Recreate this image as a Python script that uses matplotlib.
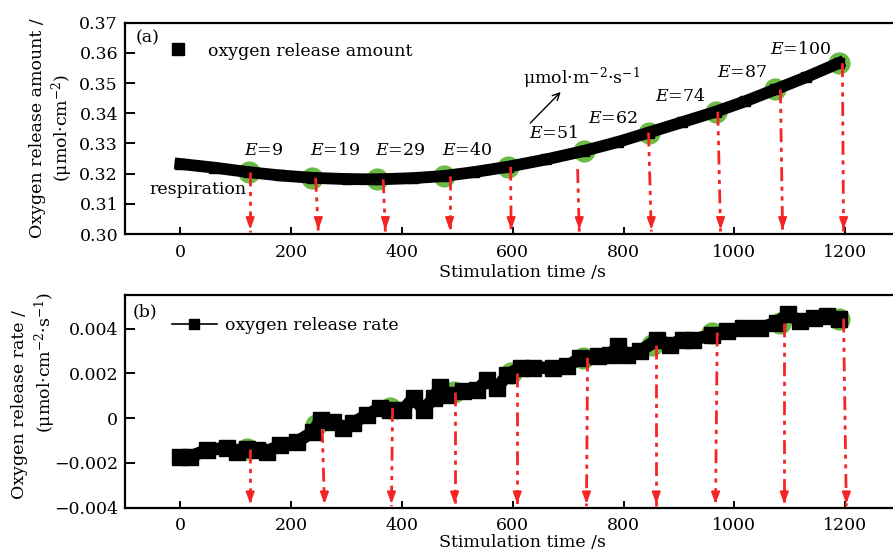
import matplotlib.pyplot as plt
from matplotlib.lines import Line2D
from matplotlib.ticker import FuncFormatter

# (a) oxygen release amount
amount_t = [0, 60, 123, 180, 238, 300, 355, 420, 475, 530, 592, 660, 728, 790, 845, 905, 966, 1020, 1074, 1130, 1188]
amount_v = [0.3232, 0.3220, 0.3205, 0.3194, 0.3186, 0.3182, 0.3181, 0.3185, 0.3192, 0.3205, 0.3223,
            0.3247, 0.3275, 0.3305, 0.3336, 0.3370, 0.3405, 0.3440, 0.3479, 0.3520, 0.3566]

# (b) oxygen release rate
rate_t = [0, 18, 48, 85, 103, 121, 139, 157, 180, 211, 240, 253, 276, 294, 312, 337, 361, 379, 402,
          421, 439, 457, 469, 481, 511, 536, 554, 572, 590, 614, 637, 673, 698, 722, 753, 776, 789,
          807, 830, 861, 884, 908, 926, 960, 987, 1016, 1047, 1077, 1096, 1119, 1143, 1168, 1188]
rate_v = [-0.00175, -0.00172, -0.00142, -0.00133, -0.00149, -0.00137, -0.00142, -0.00149, -0.00120,
          -0.00105, -0.00060, -0.00007, -0.00015, -0.00045, -0.00021, 0.00015, 0.00046, 0.00037,
          0.00037, 0.00091, 0.00037, 0.00090, 0.00140, 0.00105, 0.00120, 0.00127, 0.00172, 0.00136,
          0.00194, 0.00225, 0.00225, 0.00225, 0.00231, 0.00270, 0.00276, 0.00284, 0.00320, 0.00284,
          0.00300, 0.00351, 0.00328, 0.00351, 0.00350, 0.00373, 0.00388, 0.00403, 0.00403, 0.00427,
          0.00463, 0.00433, 0.00449, 0.00455, 0.00445]

# green markers (stimulation points)
mark_a_t = [123, 238, 355, 475, 592, 728, 845, 966, 1074, 1188]
mark_a_v = [0.3206, 0.3186, 0.3181, 0.3193, 0.3223, 0.3275, 0.3336, 0.3405, 0.3479, 0.3566]
mark_b_t = [121, 244, 379, 493, 596, 727, 852, 960, 1083, 1188]
mark_b_v = [-0.00137, -0.00030, 0.00046, 0.00118, 0.00203, 0.00270, 0.00328, 0.00382, 0.00427, 0.00445]

# red drop arrows: start / end times
arrow_a_t0 = [126, 244, 366, 486, 596, 717, 845, 970, 1083, 1195]
arrow_a_t1 = [126, 249, 370, 486, 597, 720, 850, 975, 1087, 1197]
arrow_a_v0 = [0.3206, 0.3186, 0.3181, 0.3193, 0.3223, 0.3215, 0.3336, 0.3405, 0.3479, 0.3566]
arrow_b_t0 = [126, 256, 383, 495, 608, 735, 859, 969, 1090, 1197]
arrow_b_t1 = [126, 260, 381, 495, 608, 733, 859, 966, 1090, 1202]
arrow_b_v0 = [-0.00137, -0.00048, 0.00046, 0.00118, 0.00203, 0.00270, 0.00328, 0.00382, 0.00427, 0.00445]

# intensity labels
e_labels = ['9', '19', '29', '40', '51', '62', '74', '87', '100']
e_x = [150, 280, 397, 518, 673, 780, 903, 1014, 1119]
e_y = [0.3278, 0.3278, 0.3278, 0.3278, 0.3334, 0.3384, 0.3454, 0.3536, 0.3612]

green = '#6cbb46'
red = '#f52525'
fs = 12.5

plt.rcParams['font.family'] = ['DejaVu Serif']
plt.rcParams['mathtext.fontset'] = 'dejavuserif'
plt.rcParams['font.size'] = fs

fig = plt.figure(figsize=(8.93, 5.53), dpi=100)
W, H = 893.0, 553.0
ax1 = fig.add_axes([125 / W, 1 - 234 / H, 775.6 / W, 211.3 / H])
ax2 = fig.add_axes([125 / W, 1 - 507.7 / H, 775.6 / W, 212.7 / H])

for ax in (ax1, ax2):
    ax.set_xlim(-100, 1300)
    ax.set_xticks([0, 200, 400, 600, 800, 1000, 1200])
    ax.tick_params(direction='in', width=1.4, labelsize=fs)
    ax.tick_params(axis='x', length=5, pad=7)
    ax.tick_params(axis='y', length=7, pad=5)
    for s in ax.spines.values():
        s.set_linewidth(1.6)
    ax.set_xlabel('Stimulation time /s', fontsize=fs, labelpad=1)
ax1.xaxis.set_label_coords(0.513, -0.14)
ax2.xaxis.set_label_coords(0.513, -0.125)

# panel a
ax1.set_ylim(0.30, 0.37)
ax1.set_yticks([0.30, 0.31, 0.32, 0.33, 0.34, 0.35, 0.36, 0.37])
ax1.yaxis.set_major_formatter(FuncFormatter(lambda v, p: '%.2f' % v))
ax1.plot(mark_a_t, mark_a_v, 'o', color=green, ms=16, mew=0, zorder=2)
ax1.plot(amount_t, amount_v, '-s', color='black', lw=8.5, ms=6.5, zorder=3,
         solid_capstyle='projecting')

for t0, t1, v0 in zip(arrow_a_t0, arrow_a_t1, arrow_a_v0):
    ax1.plot([t0, t1], [v0, 0.3008], color=red, lw=2, linestyle=(0, (5, 2, 1.5, 2, 1.5, 2)), zorder=4)
    ax1.annotate('', xy=(t1, 0.3005), xytext=(0, 9), textcoords='offset points',
                 arrowprops=dict(arrowstyle='-|>,head_length=0.55,head_width=0.2', color=red, lw=1.5),
                 zorder=4)

for lab, x, y in zip(e_labels, e_x, e_y):
    ax1.text(x, y, '$E$=' + lab, ha='center', va='center', fontsize=fs)

ax1.text(31, 0.3146, 'respiration', ha='center', va='center', fontsize=fs)
ax1.text(725, 0.3517, 'μmol·m$^{-2}$·s$^{-1}$', ha='center', va='center', fontsize=fs)
ax1.annotate('', xy=(690, 0.3477), xytext=(628, 0.3361),
             arrowprops=dict(arrowstyle='->', color='black', lw=1))
ax1.text(0.014, 0.93, '(a)', transform=ax1.transAxes, ha='left', va='center', fontsize=fs)
h1 = Line2D([], [], color='black', marker='s', ls='none', ms=8)
ax1.legend([h1], ['oxygen release amount'], loc='upper left', bbox_to_anchor=(0.035, 0.98),
           frameon=False, handlelength=1.2, handletextpad=1.1, fontsize=fs)

# panel b
ax2.set_ylim(-0.004, 0.0055)
ax2.set_yticks([-0.004, -0.002, 0, 0.002, 0.004])
ax2.yaxis.set_major_formatter(FuncFormatter(
    lambda v, p: '0' if abs(v) < 1e-9 else ('%.3f' % v).replace('-', '\u2212')))
ax2.plot(mark_b_t, mark_b_v, 'o', color=green, ms=16, mew=0, zorder=2)
ax2.plot(rate_t, rate_v, '-s', color='black', lw=9, ms=11, zorder=3)

for t0, t1, v0 in zip(arrow_b_t0, arrow_b_t1, arrow_b_v0):
    ax2.plot([t0, t1], [v0, -0.00393], color=red, lw=2, linestyle=(0, (5, 2, 1.5, 2, 1.5, 2)), zorder=4)
    ax2.annotate('', xy=(t1, -0.00396), xytext=(0, 9), textcoords='offset points',
                 arrowprops=dict(arrowstyle='-|>,head_length=0.55,head_width=0.2', color=red, lw=1.5),
                 zorder=4)

ax2.text(0.01, 0.92, '(b)', transform=ax2.transAxes, ha='left', va='center', fontsize=fs)
h2 = Line2D([], [], color='black', marker='s', ls='-', lw=1.2, ms=7)
ax2.legend([h2], ['oxygen release rate'], loc='upper left', bbox_to_anchor=(0.04, 0.97),
           frameon=False, handlelength=2.6, handletextpad=0.5, fontsize=fs)

# y labels
fig.text(52 / W, 1 - 128 / H, 'Oxygen release amount /\n(μmol·cm$^{-2}$)', rotation=90,
         ha='center', va='center', multialignment='center', fontsize=fs, linespacing=1.15)
fig.text(20 / W, 1 - 405 / H, 'Oxygen release rate /', rotation=90,
         ha='center', va='center', fontsize=fs)
fig.text(45 / W, 1 - 362 / H, '(μmol·cm$^{-2}$·s$^{-1}$)', rotation=90,
         ha='center', va='center', fontsize=fs)

fig.savefig('out.png', dpi=100)
